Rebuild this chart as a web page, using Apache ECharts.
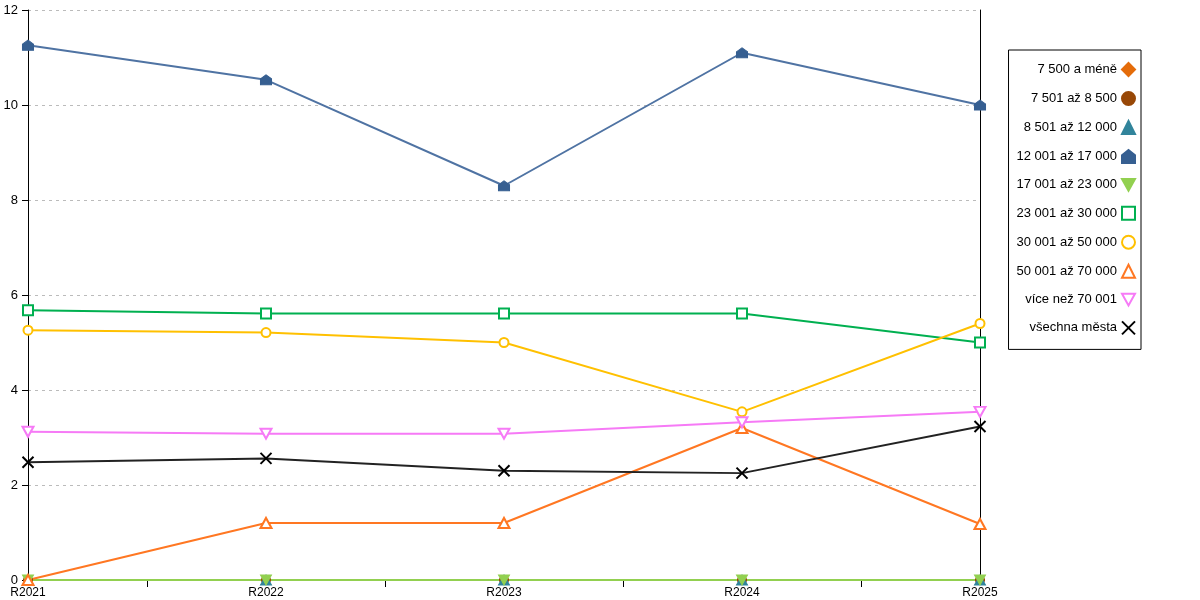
<!DOCTYPE html>
<html>
<head>
<meta charset="utf-8">
<script src="https://cdn.jsdelivr.net/npm/echarts@6/dist/echarts.min.js"></script>
<style>html,body{margin:0;padding:0;background:#fff}#c{width:1200px;height:600px}</style>
</head>
<body>
<div id="c"></div>
<script>
const categories = ['R2021', 'R2022', 'R2023', 'R2024', 'R2025'];
const yTicks = { min: 0, max: 12, interval: 2 };

const s7500 = [0, 0, 0, 0, 0];
const s7501 = [0, 0, 0, 0, 0];
const s8501 = [0, 0, 0, 0, 0];
const s12001 = [11.26, 10.53, 8.30, 11.10, 10.0];
const s17001 = [0, 0, 0, 0, 0];
const s23001 = [5.68, 5.61, 5.61, 5.61, 5.0];
const s30001 = [5.26, 5.21, 5.0, 3.54, 5.40];
const s50001 = [0, 1.2, 1.2, 3.2, 1.18];
const s70001 = [3.12, 3.08, 3.08, 3.32, 3.54];
const sAll = [2.48, 2.56, 2.30, 2.25, 3.23];

const names = ['7 500 a méně', '7 501 až 8 500', '8 501 až 12 000', '12 001 až 17 000', '17 001 až 23 000',
  '23 001 až 30 000', '30 001 až 50 000', '50 001 až 70 000', 'více než 70 001', 'všechna města'];
const values = [s7500, s7501, s8501, s12001, s17001, s23001, s30001, s50001, s70001, sAll];

const HOUSE = 'path://M0,4L5,0L10,4L10,10L0,10Z';
const INV = 'path://M0,0L10,0L5,9Z';
const EINV = 'emptyPath://M0,0L10,0L5,9Z';
const XMARK = 'emptyPath://M0,0L10,10M10,0L0,10';

const styles = [
  { color: '#E46C0A', line: '#E46C0A', symbol: 'diamond', size: 10 },
  { color: '#984807', line: '#984807', symbol: 'circle', size: 9 },
  { color: '#31849B', line: '#31849B', symbol: 'triangle', size: [11, 10] },
  { color: '#365F91', line: '#4F73A3', symbol: HOUSE, size: [11, 10] },
  { color: '#92D050', line: '#92D050', symbol: INV, size: [11, 10] },
  { color: '#00B050', line: '#00B050', symbol: 'emptyRect', size: 10 },
  { color: '#FFC000', line: '#FFC000', symbol: 'emptyCircle', size: 9 },
  { color: '#FF7722', line: '#FF7722', symbol: 'emptyTriangle', size: [11, 10] },
  { color: '#F67AF6', line: '#F67AF6', symbol: EINV, size: [11, 10] },
  { color: '#000000', line: '#222222', symbol: XMARK, size: 11 }
];

const FONT = 'Liberation Sans';

const series = names.map((n, i) => ({
  name: n,
  type: 'line',
  data: values[i],
  xAxisIndex: 0,
  yAxisIndex: 0,
  symbol: styles[i].symbol,
  symbolSize: styles[i].size,
  showAllSymbol: true,
  lineStyle: { color: styles[i].line, width: 2 },
  itemStyle: { color: styles[i].color, borderColor: styles[i].color, borderWidth: 1 },
  emphasis: { disabled: true },
  animation: false
}));

const chart = echarts.init(document.getElementById('c'));
chart.setOption({
  animation: false,
  textStyle: { fontFamily: FONT },
  grid: { left: 28, right: 220, top: 10, bottom: 20, containLabel: false },
  legend: {
    orient: 'vertical',
    right: 59,
    top: 50,
    align: 'right',
    itemWidth: 13,
    itemHeight: 13,
    itemGap: 14,
    padding: [12, 5, 14, 8],
    borderColor: '#000',
    borderWidth: 1,
    selectedMode: false,
    textStyle: { fontFamily: FONT, fontSize: 13, lineHeight: 13, color: '#000' },
    data: names.map((n, i) => ({ name: n, icon: styles[i].symbol }))
  },
  xAxis: [
    {
      type: 'category',
      data: categories,
      boundaryGap: false,
      axisLine: { show: true, lineStyle: { color: '#000', width: 1 } },
      axisTick: { show: false },
      axisLabel: { color: '#000', fontSize: 12, fontFamily: FONT, margin: 7, interval: 0 },
      splitLine: { show: false }
    },
    {
      type: 'value',
      position: 'bottom',
      min: 0,
      max: 4,
      interval: 1,
      axisLine: { show: false },
      axisTick: { show: false },
      axisLabel: { show: false },
      splitLine: { show: false },
      minorTick: { show: true, splitNumber: 2, length: 7, lineStyle: { color: '#000', width: 1 } },
      minorSplitLine: { show: false }
    }
  ],
  yAxis: [
    {
      type: 'value',
      min: yTicks.min,
      max: yTicks.max,
      interval: yTicks.interval,
      axisLine: { show: true, lineStyle: { color: '#000', width: 1 } },
      axisTick: { show: true, length: 6, lineStyle: { color: '#000' } },
      axisLabel: { color: '#000', fontSize: 13, fontFamily: FONT, margin: 10 },
      splitLine: { show: true, lineStyle: { color: '#bbbbbb', type: [3, 4], width: 1 } }
    },
    {
      type: 'value',
      position: 'right',
      min: yTicks.min,
      max: yTicks.max,
      interval: yTicks.interval,
      axisLine: { show: true, lineStyle: { color: '#000', width: 1 } },
      axisTick: { show: false },
      axisLabel: { show: false },
      splitLine: { show: false }
    }
  ],
  series: series
});
</script>
</body>
</html>
